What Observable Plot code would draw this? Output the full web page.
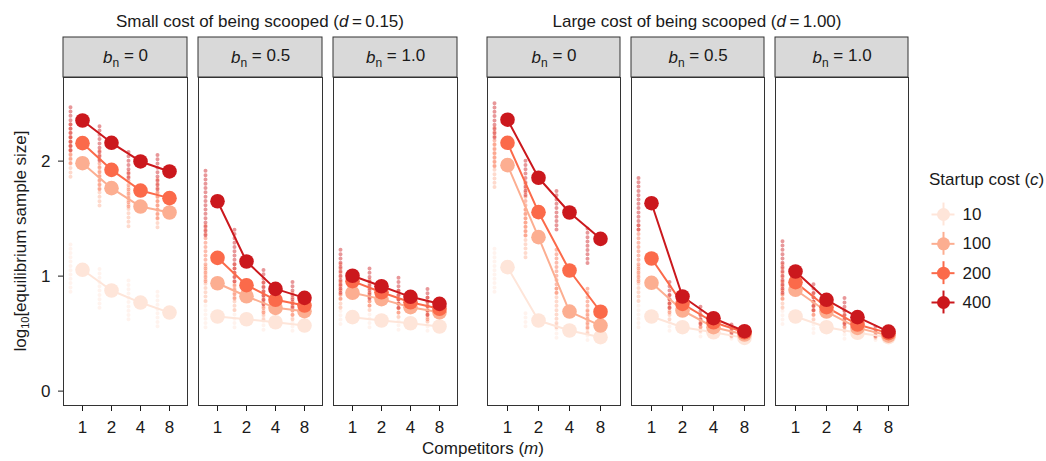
<!DOCTYPE html>
<html><head><meta charset="utf-8">
<script src="https://cdn.jsdelivr.net/npm/d3@7"></script>
<script src="https://cdn.jsdelivr.net/npm/@observablehq/plot@0.6"></script>
<style>
body{margin:0;background:#fff;font-family:"Liberation Sans",Arial,Helvetica,sans-serif;}
#root{position:relative;width:1046px;height:461px;overflow:hidden;background:#fff;}
#root svg{position:absolute;overflow:visible;}
.abs{position:absolute;white-space:nowrap;color:#1a1a1a;font-size:17px;line-height:1;}
</style></head><body><div id="root"></div>
<script>
// ---------- data ----------
const competitors = [1, 2, 4, 8];
const costs = [10, 100, 200, 400];
const costColors = ["#fee5d9", "#fcae91", "#fb6a4a", "#cb181d"];
const bnLabels = ["0", "0.5", "1.0"];
const yTicks = [0, 1, 2];
const groupTitles = ["Small cost of being scooped", "Large cost of being scooped"];
const dValues = ["0.15", "1.00"];

// rows: c = 10, 100, 200, 400 ; columns: m = 1, 2, 4, 8  (log10 equilibrium sample size)
// small cost (d = 0.15)
const meanSmallB0  = [[1.055,0.875,0.770,0.683],[1.982,1.765,1.605,1.553],[2.156,1.924,1.744,1.678],[2.353,2.159,1.997,1.910]];
const loSmallB0    = [[0.86,0.72,0.62,0.56],[1.86,1.61,1.43,1.42],[1.98,1.75,1.60,1.50],[2.09,2.00,1.85,1.75]];
const hiSmallB0    = [[1.29,1.08,0.96,0.87],[2.20,1.95,1.80,1.75],[2.35,2.10,1.90,1.85],[2.47,2.33,2.11,2.05]];
const meanSmallB05 = [[0.649,0.625,0.599,0.570],[0.938,0.825,0.724,0.695],[1.159,0.921,0.794,0.744],[1.651,1.127,0.889,0.811]];
const loSmallB05   = [[0.55,0.55,0.53,0.52],[0.78,0.70,0.62,0.62],[0.95,0.80,0.68,0.66],[1.35,0.95,0.75,0.72]];
const hiSmallB05   = [[0.78,0.72,0.68,0.66],[1.10,0.95,0.85,0.80],[1.45,1.10,0.95,0.88],[1.92,1.41,1.05,0.98]];
const meanSmallB1  = [[0.643,0.614,0.590,0.562],[0.855,0.800,0.730,0.686],[0.956,0.860,0.773,0.716],[1.003,0.912,0.820,0.759]];
const loSmallB1    = [[0.58,0.55,0.53,0.52],[0.72,0.70,0.64,0.60],[0.80,0.74,0.68,0.62],[0.85,0.80,0.72,0.66]];
const hiSmallB1    = [[0.75,0.68,0.65,0.62],[0.95,0.88,0.82,0.76],[1.10,0.98,0.90,0.82],[1.24,1.07,1.00,0.90]];
// large cost (d = 1.00)
const meanLargeB0  = [[1.078,0.614,0.527,0.469],[1.965,1.339,0.692,0.570],[2.159,1.556,1.049,0.690],[2.360,1.855,1.553,1.324]];
const loLargeB0    = [[0.86,0.56,0.46,0.44],[1.77,1.16,0.55,0.50],[1.95,1.35,0.85,0.55],[2.20,1.70,1.40,1.11]];
const hiLargeB0    = [[1.27,0.69,0.60,0.52],[2.15,1.60,0.90,0.70],[2.30,1.80,1.25,0.90],[2.50,2.02,1.74,1.43]];
const meanLargeB05 = [[0.649,0.556,0.512,0.463],[0.942,0.701,0.556,0.492],[1.153,0.759,0.599,0.512],[1.634,0.823,0.634,0.521]];
const loLargeB05   = [[0.55,0.52,0.47,0.45],[0.78,0.62,0.52,0.47],[0.95,0.68,0.55,0.48],[1.40,0.72,0.58,0.50]];
const hiLargeB05   = [[0.75,0.62,0.55,0.50],[1.10,0.78,0.62,0.53],[1.45,0.85,0.68,0.56],[1.87,0.95,0.745,0.60]];
const meanLargeB1  = [[0.649,0.556,0.507,0.469],[0.881,0.692,0.550,0.483],[0.947,0.730,0.579,0.504],[1.040,0.794,0.643,0.518]];
const loLargeB1    = [[0.58,0.50,0.45,0.44],[0.72,0.62,0.52,0.46],[0.80,0.66,0.55,0.47],[0.85,0.70,0.58,0.48]];
const hiLargeB1    = [[0.75,0.62,0.55,0.50],[0.95,0.78,0.63,0.52],[1.10,0.85,0.70,0.54],[1.30,0.93,0.82,0.57]];

// ---------- table building ----------
function panelRows(bn, mean, lo, hi) {
  return costs.flatMap((c, i) => competitors.map((m, j) => ({bn, c, m, mean: mean[i][j], lo: lo[i][j], hi: hi[i][j]})));
}
const smallData = [
  ...panelRows(bnLabels[0], meanSmallB0, loSmallB0, hiSmallB0),
  ...panelRows(bnLabels[1], meanSmallB05, loSmallB05, hiSmallB05),
  ...panelRows(bnLabels[2], meanSmallB1, loSmallB1, hiSmallB1)
];
const largeData = [
  ...panelRows(bnLabels[0], meanLargeB0, loLargeB0, hiLargeB0),
  ...panelRows(bnLabels[1], meanLargeB05, loLargeB05, hiLargeB05),
  ...panelRows(bnLabels[2], meanLargeB1, loLargeB1, hiLargeB1)
];

// ---------- layout ----------
const FONT = '"Liberation Sans", Arial, Helvetica, sans-serif';
const H = 461, plotTop = 77, plotBottom = 405, stripH = 40;
const yMin = -0.125, yMax = 2.727;
const pxPerUnit = (plotBottom - plotTop) / (yMax - yMin);
const stripTop = yMax + stripH / pxPerUnit;
const stripMid = yMax + (stripH / 2) / pxPerUnit;
const colorScale = {type: "ordinal", domain: costs, range: costColors};

function group({data, width, marginLeft, marginRight, paddingInner, showY, dx}) {
  return Plot.plot({
    width, height: H,
    marginTop: plotTop, marginBottom: H - plotBottom, marginLeft, marginRight,
    style: {fontFamily: FONT, fontSize: "17px", color: "#1a1a1a", background: "transparent", overflow: "visible"},
    fx: {domain: bnLabels, paddingInner, paddingOuter: 0, axis: null, label: null},
    x: {type: "point", domain: competitors, padding: 0.6, label: null, tickSize: 6, tickPadding: 9},
    y: showY ? {domain: [yMin, yMax], label: null, ticks: yTicks, tickFormat: d3.format("d"), tickSize: 5, tickPadding: 8}
             : {domain: [yMin, yMax], axis: null},
    color: colorScale,
    marks: [
      Plot.rect(bnLabels, {fx: d => d, y1: yMax, y2: stripTop, fill: "#d9d9d9", stroke: "#333", strokeWidth: 1}),
      Plot.text(bnLabels, {fx: d => d, y: stripMid, text: d => "b_n = " + d, fontSize: 17, fill: "#1a1a1a"}),
      Plot.frame({stroke: "#333", strokeWidth: 1}),
      Plot.ruleX(data, {fx: "bn", x: "m", y1: "lo", y2: "hi", stroke: "c", strokeWidth: 4,
                        strokeOpacity: 0.45, strokeDasharray: "0,4.3", strokeLinecap: "round", dx}),
      Plot.line(data, {fx: "bn", x: "m", y: "mean", z: "c", stroke: "c", strokeWidth: 2}),
      Plot.dot(data, {fx: "bn", x: "m", y: "mean", fill: "c", r: 7.3})
    ]
  });
}

function fixStripLabels(svg) {
  svg.querySelectorAll("text").forEach(t => {
    const s = t.textContent;
    if (!s.startsWith("b_n = ")) return;
    const rest = s.slice(6);
    while (t.firstChild) t.removeChild(t.firstChild);
    const ns = "http://www.w3.org/2000/svg";
    const a = document.createElementNS(ns, "tspan"); a.setAttribute("font-style", "italic"); a.textContent = "b";
    const b = document.createElementNS(ns, "tspan"); b.setAttribute("font-size", "12px"); b.setAttribute("dy", "0.35em"); b.textContent = "n";
    const c = document.createElementNS(ns, "tspan"); c.setAttribute("dy", "-0.35em"); c.textContent = "\u00a0= " + rest;
    t.append(a, b, c);
  });
}

const root = document.getElementById("root");

const g1 = group({data: smallData, width: 470, marginLeft: 62, marginRight: 13, paddingInner: 0.0849, showY: true, dx: -12});
g1.style.left = "0px"; g1.style.top = "0px";
fixStripLabels(g1);
root.appendChild(g1);

const g2 = group({data: largeData, width: 450, marginLeft: 17, marginRight: 12, paddingInner: 0.0764, showY: false, dx: -13});
g2.style.left = "470px"; g2.style.top = "0px";
fixStripLabels(g2);
root.appendChild(g2);

// legend
const legendIdx = costs.map((c, i) => ({c, i}));
const leg = Plot.plot({
  width: 131, height: 170, margin: 0,
  style: {fontFamily: FONT, fontSize: "17px", color: "#1a1a1a", background: "transparent", overflow: "visible"},
  x: {domain: [0, 131], range: [0, 131], axis: null},
  y: {domain: [0, 3], range: [54, 142], axis: null},
  color: colorScale,
  marks: [
    Plot.ruleY(legendIdx, {y: "i", x1: 16.5, x2: 39.5, stroke: "c", strokeWidth: 2}),
    Plot.ruleX(legendIdx, {x: 28, y1: d => d.i - 0.39, y2: d => d.i + 0.39, stroke: "c", strokeWidth: 2}),
    Plot.dot(legendIdx, {x: 28, y: "i", fill: "c", r: 6.5}),
    Plot.text(legendIdx, {x: 47, y: "i", text: d => String(d.c), textAnchor: "start", fontSize: 17, fill: "#1a1a1a"})
  ]
});
leg.style.left = "915px"; leg.style.top = "160px";
root.appendChild(leg);

// html text
function addDiv(html, css) {
  const d = document.createElement("div");
  d.className = "abs"; d.innerHTML = html;
  Object.assign(d.style, css);
  root.appendChild(d);
  return d;
}
addDiv(`${groupTitles[0]} (<i>d</i>\u2009=\u2009${dValues[0]})`, {left: "260px", top: "12.5px", transform: "translateX(-50%)"});
addDiv(`${groupTitles[1]} (<i>d</i>\u2009=\u2009${dValues[1]})`, {left: "697px", top: "12.5px", transform: "translateX(-50%)"});
addDiv(`Competitors (<i>m</i>)`, {left: "483px", top: "440px", transform: "translateX(-50%)"});
addDiv(`log<sub style="font-size:11px;vertical-align:-3px">10</sub>[equilibrium sample size]`,
       {left: "21px", top: "241px", transform: "translate(-50%,-50%) rotate(-90deg)"});
addDiv(`Startup cost (<i>c</i>)`, {left: "929px", top: "171px"});
</script></body></html>
